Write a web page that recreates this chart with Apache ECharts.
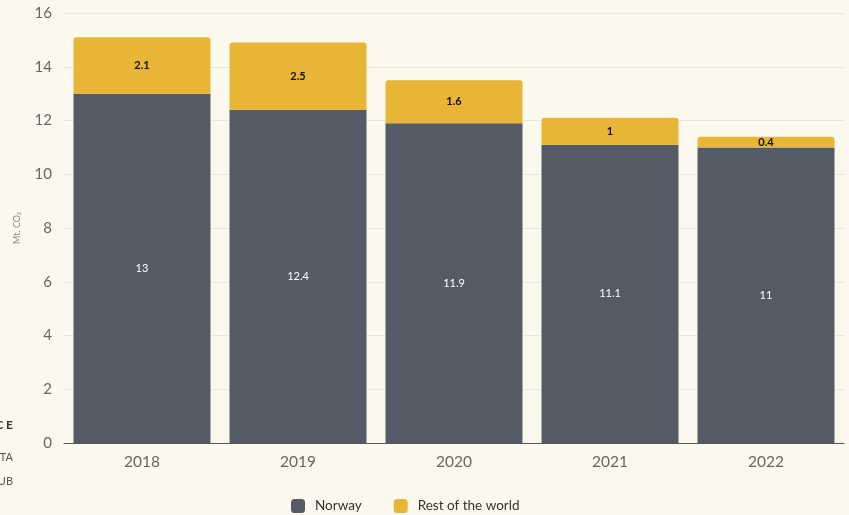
<!DOCTYPE html>
<html>
<head>
<meta charset="utf-8">
<script src="https://cdn.jsdelivr.net/npm/echarts@6/dist/echarts.min.js"></script>
<style>
  html, body { margin: 0; padding: 0; background: #fbf8ed; }
  #chart { width: 849px; height: 515px; }
</style>
</head>
<body>
<div id="chart"></div>
<script>
// Emissions by year, split into Norway and the rest of the world (Mt CO2)
const years = ['2018', '2019', '2020', '2021', '2022'];
const norway = [13, 12.4, 11.9, 11.1, 11];
const restOfWorld = [2.1, 2.5, 1.6, 1, 0.4];
const yTicks = { min: 0, max: 16, interval: 2 };

const FONT = 'Lato, "Open Sans", sans-serif';
const chart = echarts.init(document.getElementById('chart'), null, { renderer: 'canvas' });

chart.setOption({
  backgroundColor: '#fbf8ed',
  animation: false,
  textStyle: { fontFamily: FONT },
  grid: { left: 64, right: 5, top: 13, bottom: 72 },
  legend: {
    bottom: 2,
    padding: 0,
    left: 291,
    itemWidth: 14,
    itemHeight: 14,
    itemGap: 32,
    icon: 'roundRect',
    textStyle: { fontFamily: FONT, fontSize: 13.5, color: '#333', padding: [0, 0, 0, 5] },
    data: ['Norway', 'Rest of the world']
  },
  xAxis: {
    type: 'category',
    data: years,
    axisLine: { lineStyle: { color: '#555', width: 1 } },
    axisTick: { show: false },
    axisLabel: { color: '#666', fontSize: 15.5, margin: 11, fontFamily: FONT }
  },
  yAxis: {
    type: 'value',
    min: yTicks.min,
    max: yTicks.max,
    interval: yTicks.interval,
    name: 'Mt. CO\u2082',
    nameLocation: 'middle',
    nameGap: 42,
    nameRotate: 90,
    nameTextStyle: { color: '#888', fontSize: 9, fontFamily: FONT },
    axisLine: { show: false },
    axisTick: { show: false },
    axisLabel: { color: '#666', fontSize: 15, margin: 12, fontFamily: FONT },
    splitLine: { lineStyle: { color: '#e9e6de', width: 1 } }
  },
  series: [
    {
      name: 'Norway',
      type: 'bar',
      stack: 'total',
      barWidth: 137,
      data: norway,
      itemStyle: { color: '#545b67' },
      label: {
        show: true,
        position: 'inside',
        color: '#ffffff',
        fontSize: 11,
        fontFamily: FONT
      }
    },
    {
      name: 'Rest of the world',
      type: 'bar',
      stack: 'total',
      barWidth: 137,
      data: restOfWorld,
      itemStyle: { color: '#e8b536', borderRadius: [3, 3, 0, 0] },
      label: {
        show: true,
        position: 'inside',
        color: '#111',
        fontSize: 11,
        fontWeight: 'bold',
        fontFamily: FONT
      }
    }
  ],
  graphic: [
    { type: 'text', right: 836, top: 419, style: { text: 'C E', fill: '#333', font: 'bold 12px ' + FONT } },
    { type: 'text', right: 836, top: 452, style: { text: 'TA', fill: '#555', font: '11px ' + FONT } },
    { type: 'text', right: 836, top: 476, style: { text: 'UB', fill: '#555', font: '11px ' + FONT } }
  ]
});
</script>
</body>
</html>
